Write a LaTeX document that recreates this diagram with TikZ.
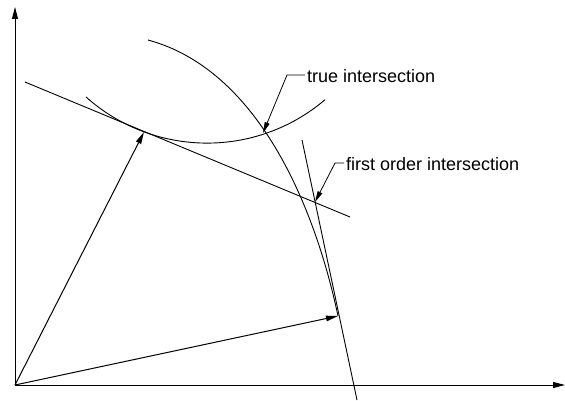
\documentclass[tikz,border=0pt]{standalone}
\usepackage{fontspec}
\setmainfont{Liberation Sans}
\usetikzlibrary{arrows.meta}
\begin{document}
\begin{tikzpicture}[x=1pt,y=-1pt,
  thinline/.style={line width=0.9pt, black},
  axisline/.style={line width=1pt, black, -{Triangle[length=12pt,width=6pt]}},
  vecline/.style={line width=1pt, black, -{Triangle[length=12pt,width=5.5pt]}},
  leaderline/.style={line width=0.8pt, black, -{Triangle[length=11pt,width=5pt]}},
  lbl/.style={inner sep=0pt, font=\fontsize{18}{21}\selectfont, anchor=base west}]
\useasboundingbox (0,0) rectangle (565,401);
% key points
\coordinate (O) at (15,385);
\coordinate (ytip) at (15,7);
\coordinate (xtip) at (565,385);
\coordinate (v1) at (144,132);
\coordinate (v2) at (338,316);
\coordinate (ti) at (263,133);
\coordinate (fi) at (315,202);
\coordinate (L1a) at (25,82);
\coordinate (L1b) at (350,217);
\coordinate (L2a) at (302,140);
\coordinate (L2b) at (357,400);
\coordinate (C1a) at (148,40);
\coordinate (C2a) at (86,97);
% axes
\draw[axisline] (O) -- (ytip);
\draw[axisline] (O) -- (xtip);
% vectors
\draw[vecline] (O) -- (v1);
\draw[vecline] (O) -- (v2);
% curves
\draw[thinline] (C1a) .. controls (258,69.7) and (314.7,206) .. (v2);
\draw[thinline] (C2a) arc[start angle=131.7, end angle=49.6, radius=182];
% tangent lines
\draw[thinline] (L1a) -- (L1b);
\draw[thinline] (L2a) -- (L2b);
% labels
\node[lbl] (t1) at (307,83) {true intersection};
\node[lbl] (t2) at (346,171) {first order intersection};
\draw[leaderline] ([xshift=-2pt,yshift=8pt]t1.base west) -- ++(-18,0) -- (ti);
\draw[leaderline] ([xshift=-2pt,yshift=8pt]t2.base west) -- ++(-9,0) -- (fi);
\end{tikzpicture}
\end{document}
